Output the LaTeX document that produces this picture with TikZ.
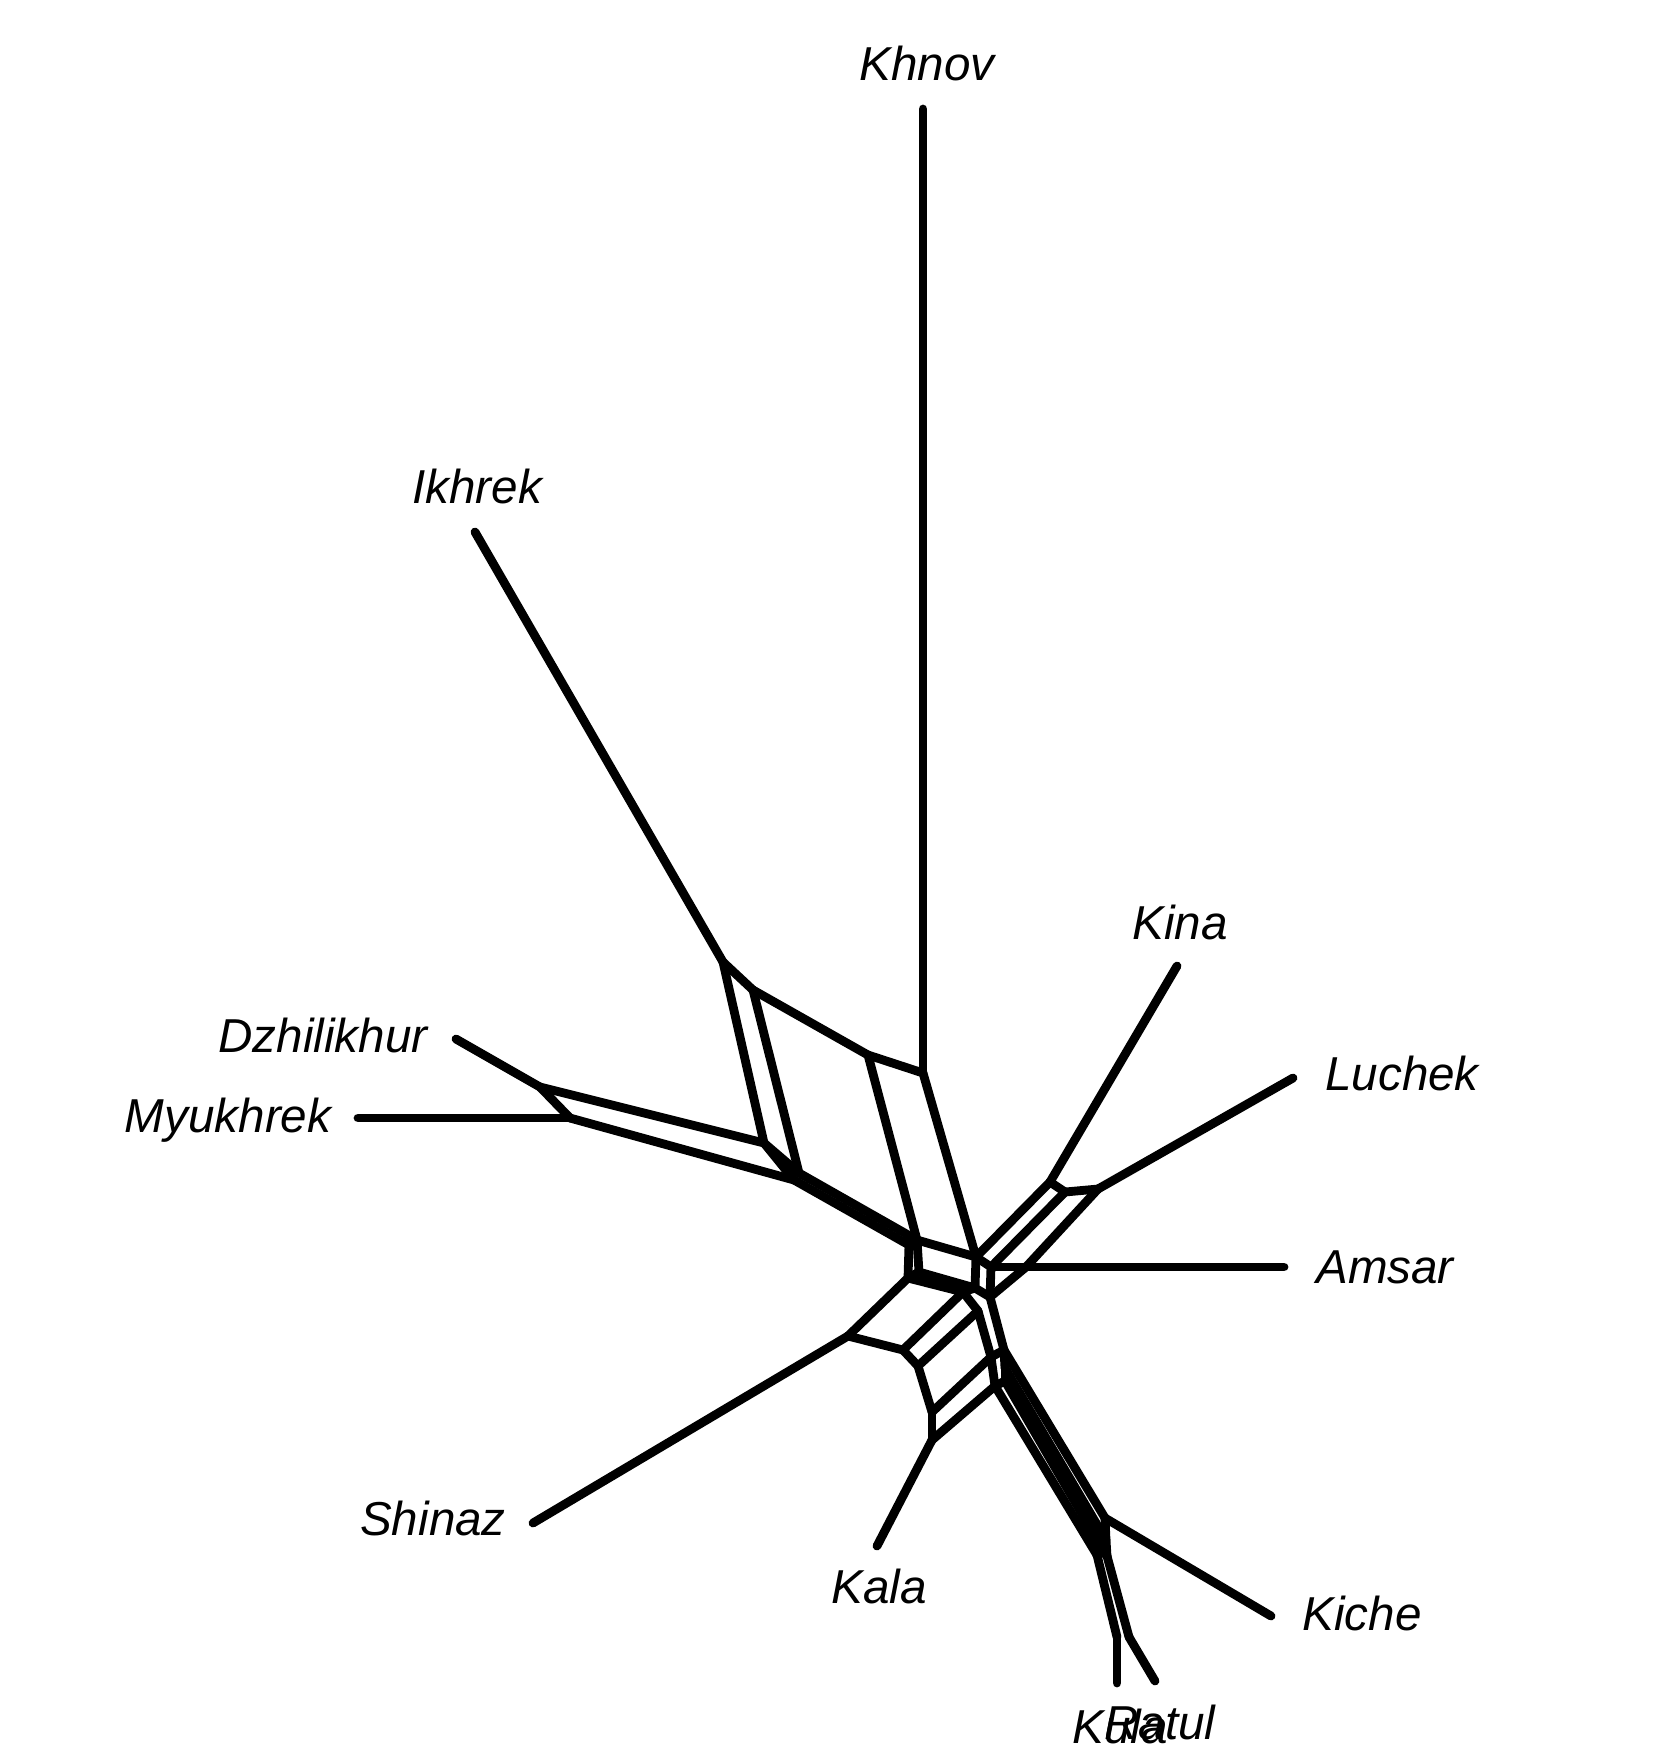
\documentclass[tikz,border=0pt]{standalone}
\usepackage{fontspec}
\setmainfont{Liberation Sans}
\begin{document}
\begin{tikzpicture}[x=1pt,y=-1pt,
  net/.style={line width=8.8pt,line cap=round,line join=round},
  lab/.style={font=\fontsize{47.6}{57}\selectfont\itshape,anchor=base,inner sep=0pt}]
\useasboundingbox (0,0) rectangle (1656,1764);
% labels
\node[lab] (tKhnov) at (927,80) {Khnov};
\node[lab] (tIkhrek) at (477,503) {Ikhrek};
\node[lab] (tDzh) at (323,1052) {Dzhilikhur};
\node[lab] (tMyu) at (228,1132) {Myukhrek};
\node[lab] (tKina) at (1180,939) {Kina};
\node[lab] (tLuchek) at (1402,1090) {Luchek};
\node[lab] (tAmsar) at (1385,1283) {Amsar};
\node[lab] (tShinaz) at (433,1535) {Shinaz};
\node[lab] (tKala) at (879,1603) {Kala};
\node[lab] (tKiche) at (1362,1630) {Kiche};
\node[lab] (tKula) at (1120,1743) {Kula};
\node[lab] (tRatul) at (1160,1739) {Ratul};
% leaf ends
\coordinate (Lkhnov) at (923,109);
\coordinate (Likhrek) at (475,532);
\coordinate (Ldzh) at (456,1039);
\coordinate (Lmyu) at (358,1118);
\coordinate (Lkina) at (1177,966);
\coordinate (Lluchek) at (1293,1078);
\coordinate (Lamsar) at (1284,1267);
\coordinate (Lkiche) at (1271,1616);
\coordinate (Lratul) at (1155,1681);
\coordinate (Lkula) at (1117,1683);
\coordinate (Lkala) at (877,1546);
\coordinate (Lshinaz) at (533,1523);
% internal
\coordinate (A1) at (723,962);
\coordinate (A2) at (753,990);
\coordinate (A3) at (764,1143);
\coordinate (A4) at (799,1173);
\coordinate (C1) at (794,1180);
\coordinate (D1) at (540,1087);
\coordinate (M1) at (570,1118);
\coordinate (B1) at (868,1055);
\coordinate (B2) at (923,1073);
\coordinate (B3) at (917,1240);
\coordinate (B4) at (976,1257);
\coordinate (E2) at (909,1245);
\coordinate (E3) at (908,1278);
\coordinate (E4) at (919,1272);
\coordinate (G1) at (975,1288);
\coordinate (F1) at (963,1292);
\coordinate (S1) at (848,1336);
\coordinate (S2) at (903,1350);
\coordinate (S3) at (918,1366);
\coordinate (F2) at (978,1311);
\coordinate (S4) at (932,1412);
\coordinate (F3) at (991,1357);
\coordinate (S5) at (932,1440);
\coordinate (F4) at (995,1386);
\coordinate (K1) at (1050,1182);
\coordinate (K2) at (1065,1192);
\coordinate (L1) at (1098,1189);
\coordinate (P2) at (991,1267);
\coordinate (Am1) at (1026,1267);
\coordinate (G3) at (990,1297);
\coordinate (H1) at (1004,1350);
\coordinate (H3) at (1005,1368);
\coordinate (H2) at (1005,1381);
\coordinate (U1) at (1097,1555);
\coordinate (U2) at (1104,1552);
\coordinate (U3) at (1106,1540);
\coordinate (KJ) at (1105,1518);
\coordinate (V1) at (1107,1556);
\coordinate (Ku1) at (1117,1637);
\coordinate (Ra1) at (1129,1637);
% edges
\draw[net] (Lkhnov) -- (B2);
\draw[net] (B1) -- (B2);
\draw[net] (A2) -- (B1);
\draw[net] (A1) -- (A2);
\draw[net] (Likhrek) -- (A1);
\draw[net] (A1) -- (A3);
\draw[net] (A2) -- (A4);
\draw[net] (A3) -- (A4);
\draw[net] (A3) -- (C1);
\draw[net] (Ldzh) -- (D1);
\draw[net] (Lmyu) -- (M1);
\draw[net] (D1) -- (M1);
\draw[net] (D1) -- (A3);
\draw[net] (M1) -- (C1);
\draw[net] (A4) -- (B3);
\draw[net] (C1) -- (E2);
\draw[net] (E2) -- (B3);
\draw[net] (B1) -- (B3);
\draw[net] (B2) -- (B4);
\draw[net] (B3) -- (B4);
\draw[net] (B3) -- (E4);
\draw[net] (E2) -- (E3);
\draw[net] (E3) -- (E4);
\draw[net] (E4) -- (G1);
\draw[net] (B4) -- (G1);
\draw[net] (E3) -- (F1);
\draw[net] (F1) -- (G1);
\draw[net] (S1) -- (E3);
\draw[net] (Lshinaz) -- (S1);
\draw[net] (S1) -- (S2);
\draw[net] (S2) -- (F1);
\draw[net] (S2) -- (S3);
\draw[net] (S3) -- (F2);
\draw[net] (F1) -- (F2);
\draw[net] (S3) -- (S4);
\draw[net] (S4) -- (F3);
\draw[net] (F2) -- (F3);
\draw[net] (S4) -- (S5);
\draw[net] (F3) -- (F4);
\draw[net] (S5) -- (F4);
\draw[net] (S5) -- (Lkala);
\draw[net] (K1) -- (Lkina);
\draw[net] (K1) -- (K2);
\draw[net] (K2) -- (L1);
\draw[net] (L1) -- (Lluchek);
\draw[net] (K1) -- (B4);
\draw[net] (K2) -- (P2);
\draw[net] (B4) -- (P2);
\draw[net] (L1) -- (Am1);
\draw[net] (P2) -- (Am1);
\draw[net] (Am1) -- (Lamsar);
\draw[net] (P2) -- (G3);
\draw[net] (G1) -- (G3);
\draw[net] (G3) -- (Am1);
\draw[net] (G3) -- (H1);
\draw[net] (F3) -- (H1);
\draw[net] (H1) -- (H3);
\draw[net] (H3) -- (H2);
\draw[net] (F4) -- (H2);
\draw[net] (F4) -- (U1);
\draw[net] (H2) -- (U2);
\draw[net] (H3) -- (U3);
\draw[net] (H1) -- (KJ);
\draw[net] (U1) -- (U2);
\draw[net] (U2) -- (V1);
\draw[net] (KJ) -- (Lkiche);
\draw[net] (KJ) -- (U3);
\draw[net] (U3) -- (V1);
\draw[net] (U1) -- (Ku1);
\draw[net] (V1) -- (Ra1);
\draw[net] (Ku1) -- (Lkula);
\draw[net] (Ra1) -- (Lratul);
\end{tikzpicture}
\end{document}
